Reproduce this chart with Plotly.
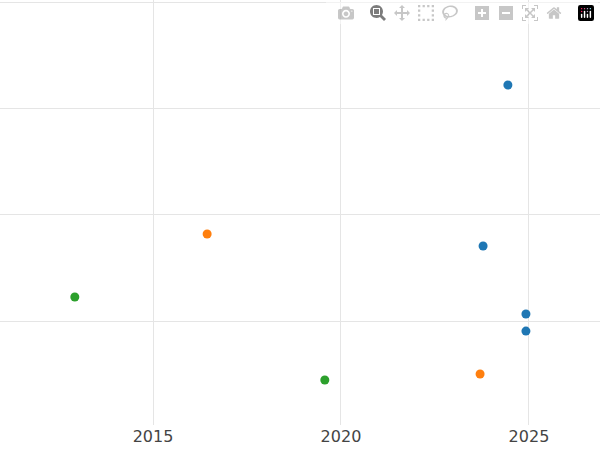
import plotly.graph_objects as go

blue_x = [2024.44, 2023.78, 2024.92, 2024.92]
blue_y = [3.226, 1.707, 1.066, 0.905]
orange_x = [2016.44, 2023.70]
orange_y = [1.821, 0.500]
green_x = [2012.92, 2019.57]
green_y = [1.226, 0.443]

fig = go.Figure()
for xs, ys, c in [(blue_x, blue_y, "#1f77b4"), (orange_x, orange_y, "#ff7f0e"), (green_x, green_y, "#2ca02c")]:
    fig.add_trace(go.Scatter(x=xs, y=ys, mode="markers", marker=dict(color=c, size=9)))

fig.update_layout(
    width=600, height=450, template="plotly_white", showlegend=False,
    margin=dict(l=0, r=0, t=0, b=25),
    paper_bgcolor="white", plot_bgcolor="white",
    font=dict(family="DejaVu Sans", size=16, color="#444"),
    xaxis=dict(range=[2010.93, 2026.89], tickvals=[2015, 2020, 2025], gridcolor="#e5e5e5",
               zeroline=False, showline=False),
    yaxis=dict(range=[0.019, 4.028], tickvals=[1, 2, 3, 4], showticklabels=False,
               gridcolor="#e5e5e5", zeroline=False),
)
fig.write_html("out.html", post_script="document.body.style.margin='0';document.body.style.overflow='hidden';")
